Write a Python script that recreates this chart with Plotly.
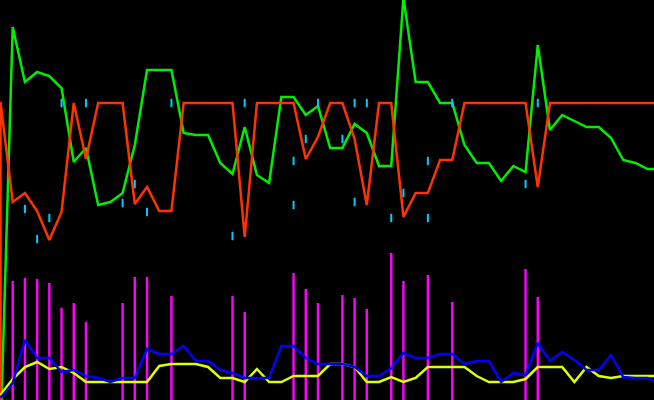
import plotly.graph_objects as go

# values measured on a 0..400 vertical scale (0 = bottom of chart)
idx = list(range(55))

green = [-35, 373, 318, 328, 324, 312, 238, 252, 195, 198, 207, 255, 330, 330, 330, 267,
         265, 265, 237, 226, 273, 225, 217, 303, 303, 285, 294, 252, 252, 276, 267, 234,
         234, 402, 318, 318, 297, 297, 255, 237, 237, 219, 234, 228, 355, 270, 285, 279,
         273, 273, 262, 240, 237, 231, 231]

red_start = 0
red = [298, 198, 207, 189, 160, 188, 297, 241, 297, 297, 297, 196, 213, 189, 189, 297,
       297, 297, 297, 297, 163, 297, 297, 297, 297, 241, 263, 297, 297, 261, 195, 297,
       297, 183, 207, 207, 240, 240, 297, 297, 297, 297, 297, 297, 213, 297, 297, 297,
       297, 297, 297, 297, 297, 297, 297]

blue = [2, 17, 60, 42, 42, 28, 30, 24, 22, 18, 22, 22, 51, 46, 46, 54, 39, 39, 30, 27,
        22, 22, 22, 54, 54, 42, 36, 36, 36, 33, 24, 24, 32, 47, 42, 42, 46, 46, 36, 39,
        39, 18, 27, 25, 57, 39, 48, 40, 30, 30, 45, 23, 22, 22, 16]

yellow = [5, 21, 33, 38, 31, 33, 27, 18, 18, 18, 18, 18, 18, 34, 36, 36, 36, 33, 22, 22,
          18, 31, 18, 18, 24, 24, 24, 36, 36, 33, 18, 18, 23, 18, 22, 33, 33, 33, 33, 24,
          18, 18, 18, 21, 33, 33, 33, 18, 33, 24, 22, 24, 24, 24, 24]

bar_idx = [1, 2, 3, 4, 5, 6, 7, 10, 11, 12, 14, 19, 20, 24, 25, 26, 28, 29, 30, 32, 33,
           35, 37, 43, 44]
bar_val = [119, 122, 121, 117, 92, 97, 78, 97, 123, 123, 104, 104, 88, 127, 111, 97, 105,
           102, 91, 147, 119, 125, 98, 131, 103]

cyan_idx = [2, 3, 4, 5, 7, 10, 11, 12, 14, 19, 20, 24, 24, 25, 26, 28, 29, 29, 30, 32,
            33, 35, 35, 37, 43, 44]
cyan_val = [191, 161, 182, 297, 297, 197, 216, 188, 297, 164, 297, 239, 195, 261, 297,
            261, 297, 198, 297, 182, 207, 239, 182, 297, 216, 297]

fig = go.Figure()
fig.add_trace(go.Scatter(x=idx, y=green, mode="lines",
                         line=dict(color="#00ee00", width=2.5)))
fig.add_trace(go.Scatter(x=[0] + idx, y=[red_start] + red, mode="lines",
                         line=dict(color="#ff3300", width=2.5)))
fig.add_trace(go.Scatter(x=cyan_idx, y=cyan_val, mode="markers",
                         marker=dict(symbol="line-ns", size=6,
                                     line=dict(color="#00ccff", width=2))))
fig.add_trace(go.Scatter(x=idx, y=yellow, mode="lines",
                         line=dict(color="#ddff00", width=2.5)))
fig.add_trace(go.Scatter(x=idx, y=blue, mode="lines",
                         line=dict(color="#0000ff", width=2.5)))
fig.add_trace(go.Bar(x=bar_idx, y=bar_val, width=0.2,
                     marker=dict(color="#ff00ff", line=dict(width=0))))

fig.update_layout(
    width=654, height=400,
    margin=dict(l=0, r=0, t=0, b=0),
    paper_bgcolor="black", plot_bgcolor="black",
    showlegend=False,
    xaxis=dict(range=[-0.041, 53.52], visible=False, showgrid=False, zeroline=False),
    yaxis=dict(range=[0, 400], visible=False, showgrid=False, zeroline=False),
)
fig.write_html(
    "out.html",
    config={"displayModeBar": False},
    post_script="document.body.style.margin='0';document.body.style.overflow='hidden';"
                "document.body.style.background='black';",
)
